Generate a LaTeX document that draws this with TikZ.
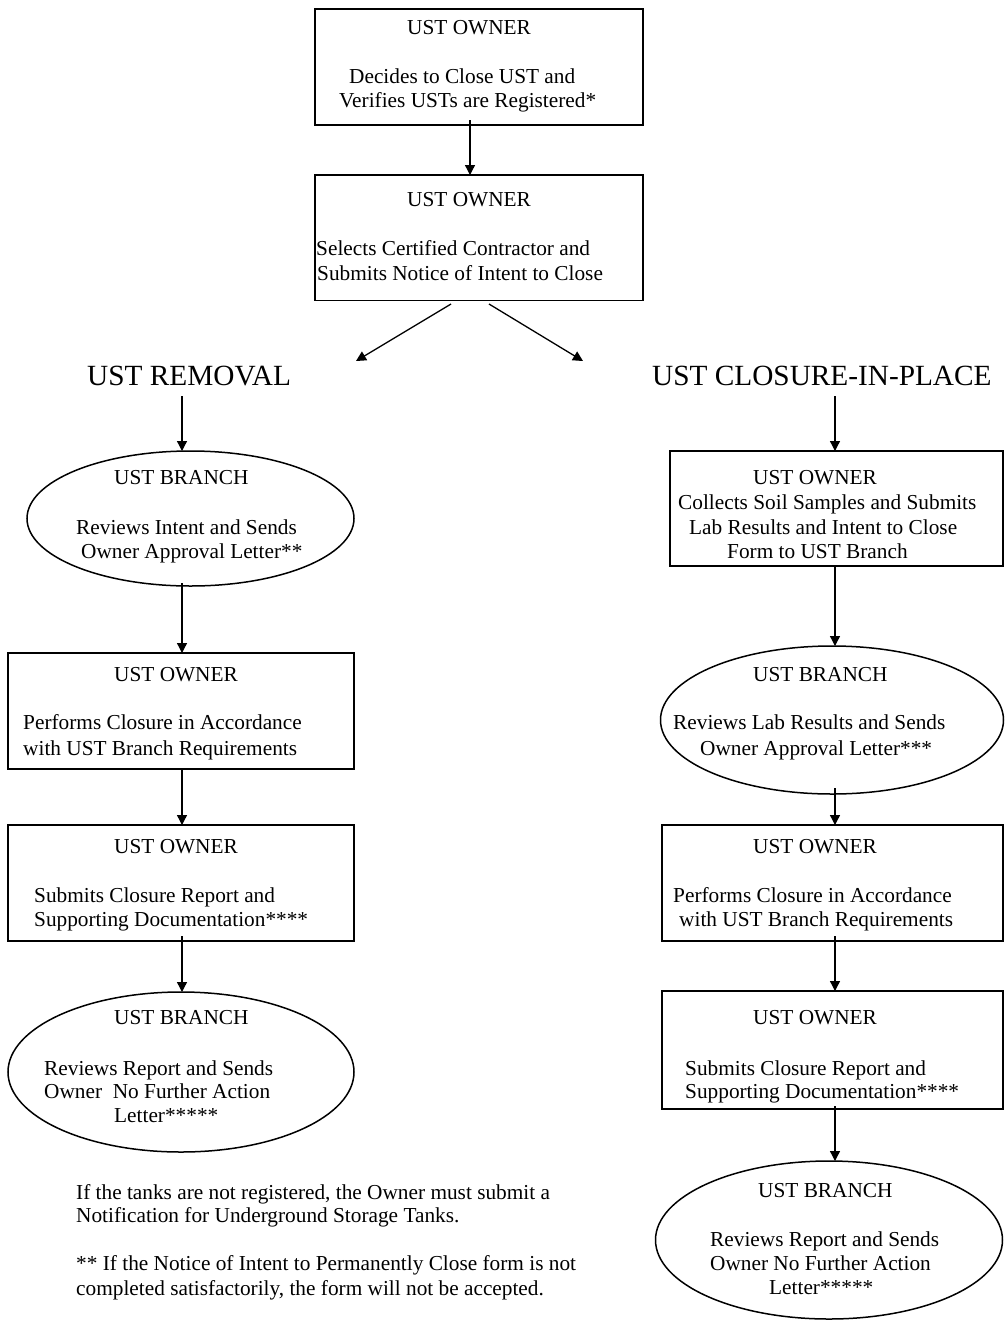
\documentclass[tikz,border=0pt]{standalone}
\usepackage{fontspec}
\setmainfont{Liberation Serif}
\usetikzlibrary{shapes.geometric,arrows.meta,calc}
\begin{document}
\begin{tikzpicture}[x=1pt,y=-1pt,
  box/.style={draw,line width=1.5pt,rectangle,inner sep=0pt,outer sep=0pt},
  oval/.style={draw,line width=1.5pt,ellipse,inner sep=0pt,outer sep=0pt},
  txt/.style={anchor=base west,inner sep=0pt,font=\fontsize{21.3}{24}\selectfont},
  ttl/.style={anchor=base west,inner sep=0pt,font=\fontsize{29.3}{32}\selectfont},
  arr/.style={line width=1.3pt,-{Triangle[length=10pt,width=10pt]}}]
\useasboundingbox (0,0) rectangle (1005,1320);
\fill[white] (0,0) rectangle (1005,1320);

% ---------- shapes ----------
\node[box,minimum width=328pt,minimum height=116pt] (b1) at (479,67) {};
\node[box,minimum width=328pt,minimum height=125.5pt] (b2) at (479,237.75) {};
\node[oval,minimum width=327pt,minimum height=135pt] (eL1) at (190.5,518.5) {};
\node[box,minimum width=346pt,minimum height=116pt] (bL3) at (181,711) {};
\node[box,minimum width=346pt,minimum height=116pt] (bL4) at (181,883) {};
\node[oval,minimum width=346pt,minimum height=160pt] (eL5) at (181,1072) {};
\node[box,minimum width=333pt,minimum height=115pt] (bR1) at (836.5,508.5) {};
\node[oval,minimum width=343pt,minimum height=148pt] (eR2) at (832,720) {};
\node[box,minimum width=341pt,minimum height=116pt] (bR3) at (832.5,883) {};
\node[box,minimum width=341pt,minimum height=118pt] (bR4) at (832.5,1050) {};
\node[oval,minimum width=347pt,minimum height=158pt] (eR5) at (829,1240) {};

% ---------- texts ----------
\node[txt] (t1a) at (407,34.5) {UST OWNER};
\node[txt] (t1b) at (349,83) {Decides to Close UST and};
\node[txt] (t1c) at (339,107) {Verifies USTs are Registered*};

\node[txt] (t2a) at (407,206) {UST OWNER};
\node[txt] (t2b) at (316,255) {Selects Certified Contractor and};
\node[txt] (t2c) at (317,280) {Submits Notice of Intent to Close};

\node[ttl] (tL) at (87,385) {UST REMOVAL};
\node[ttl] (tR) at (652,385) {UST CLOSURE-IN-PLACE};

\node[txt] (l1a) at (114,484) {UST BRANCH};
\node[txt] (l1b) at (76,534) {Reviews Intent and Sends};
\node[txt] (l1c) at (81,558) {Owner Approval Letter**};

\node[txt] (l3a) at (114,681) {UST OWNER};
\node[txt] (l3b) at (23,729) {Performs Closure in Accordance};
\node[txt] (l3c) at (23,755) {with UST Branch Requirements};

\node[txt] (l4a) at (114,853) {UST OWNER};
\node[txt] (l4b) at (34,902) {Submits Closure Report and};
\node[txt] (l4c) at (34,926) {Supporting Documentation****};

\node[txt] (l5a) at (114,1024) {UST BRANCH};
\node[txt] (l5b) at (44,1075) {Reviews Report and Sends};
\node[txt] (l5c) at (44,1098) {Owner\ \ No Further Action};
\node[txt] (l5d) at (114,1122) {Letter*****};

\node[txt] (f1) at (76,1199) {If the tanks are not registered, the Owner must submit a};
\node[txt] (f2) at (76,1222) {Notification for Underground Storage Tanks.};
\node[txt] (f3) at (76,1270) {** If the Notice of Intent to Permanently Close form is not};
\node[txt] (f4) at (76,1295) {completed satisfactorily, the form will not be accepted.};

\node[txt] (r1a) at (753,484) {UST OWNER};
\node[txt] (r1b) at (678,509) {Collects Soil Samples and Submits};
\node[txt] (r1c) at (689,534) {Lab Results and Intent to Close};
\node[txt] (r1d) at (727,558) {Form to UST Branch};

\node[txt] (r2a) at (753,681) {UST BRANCH};
\node[txt] (r2b) at (673,729) {Reviews Lab Results and Sends};
\node[txt] (r2c) at (700,755) {Owner Approval Letter***};

\node[txt] (r3a) at (753,853) {UST OWNER};
\node[txt] (r3b) at (673,902) {Performs Closure in Accordance};
\node[txt] (r3c) at (679,926) {with UST Branch Requirements};

\node[txt] (r4a) at (753,1024) {UST OWNER};
\node[txt] (r4b) at (685,1075) {Submits Closure Report and};
\node[txt] (r4c) at (685,1098) {Supporting Documentation****};

\node[txt] (r5a) at (758,1197) {UST BRANCH};
\node[txt] (r5b) at (710,1246) {Reviews Report and Sends};
\node[txt] (r5c) at (710,1270) {Owner No Further Action};
\node[txt] (r5d) at (769,1294) {Letter*****};

% ---------- connectors ----------
\coordinate (cL) at (182,0);
\coordinate (cR) at (835,0);
\coordinate (dL) at (356,361);
\coordinate (dR) at (583,361);

\draw[arr] ($(b1.south)+(-9,-5)$) -- ($(b2.north)+(-9,0)$);
\draw[arr] ($(b2.south)+(-28,3.5)$) -- (dL);
\draw[arr] ($(b2.south)+(10,3.5)$) -- (dR);

\draw[arr] ($(tL.base -| cL)+(0,11)$) -- (eL1.north -| cL);
\draw[arr] ($(eL1.south -| cL)+(0,-3)$) -- (bL3.north -| cL);
\draw[arr] (bL3.south -| cL) -- (bL4.north -| cL);
\draw[arr] ($(bL4.south -| cL)+(0,-5)$) -- (eL5.north -| cL);

\draw[arr] ($(tR.base -| cR)+(0,11)$) -- (bR1.north -| cR);
\draw[arr] (bR1.south -| cR) -- (eR2.north -| cR);
\draw[arr] ($(eR2.south -| cR)+(0,-6)$) -- (bR3.north -| cR);
\draw[arr] ($(bR3.south -| cR)+(0,-5)$) -- (bR4.north -| cR);
\draw[arr] ($(bR4.south -| cR)+(0,-3)$) -- (eR5.north -| cR);
\end{tikzpicture}
\end{document}
